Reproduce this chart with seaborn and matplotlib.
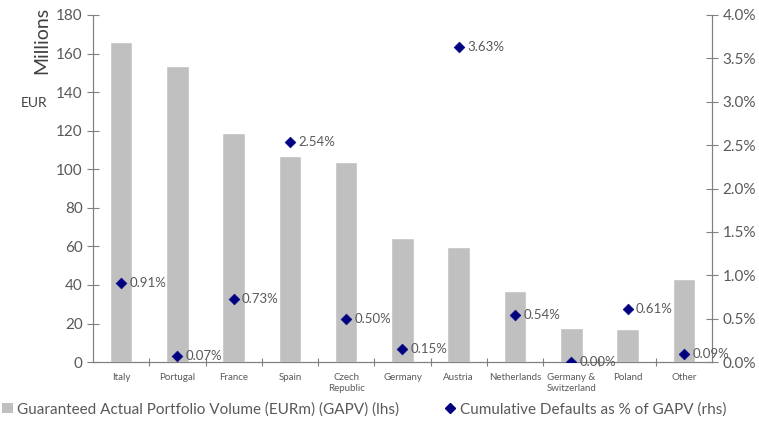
import matplotlib
matplotlib.use("Agg")
import matplotlib.pyplot as plt
import seaborn as sns
import numpy as np
import pandas as pd
from matplotlib.ticker import FuncFormatter, FixedLocator
from matplotlib.lines import Line2D
from matplotlib.patches import Patch

countries = ["Italy", "Portugal", "France", "Spain", "Czech\nRepublic", "Germany",
             "Austria", "Netherlands", "Germany &\nSwitzerland", "Poland", "Other"]
gapv = [166, 153.5, 119, 107, 104, 64.5, 59.5, 37, 17.5, 17, 43]
defaults_pct = [0.91, 0.07, 0.73, 2.54, 0.50, 0.15, 3.63, 0.54, 0.00, 0.61, 0.09]

GREY = "#c0c0c0"
NAVY = "#000080"
TXT = "#595959"

sns.set_style("white")
plt.rcParams["font.family"] = ["Lato", "DejaVu Sans"]

df = pd.DataFrame({"country": countries, "gapv": gapv, "pct": defaults_pct})
df["pos"] = np.arange(len(df))

fig = plt.figure(figsize=(7.59, 4.28), dpi=100)
ax = fig.add_axes([0.1225, 0.154, 0.8155, 0.811])

sns.barplot(data=df, x="country", y="gapv", color=GREY, width=0.4, ax=ax,
            saturation=1)
ax.set_xlim(-0.5, len(df) - 0.5)
ax.set_ylim(0, 180)
ax.set_yticks(range(0, 181, 20))
ax.set_xlabel("")
ax.set_ylabel("")

ax2 = ax.twinx()
sns.scatterplot(data=df, x="pos", y="pct", marker="D", color=NAVY, s=30,
                edgecolor=NAVY, ax=ax2, zorder=5, legend=False)
ax2.set_ylim(0, 4.0)
ax2.set_yticks(np.arange(0, 4.01, 0.5))
ax2.yaxis.set_major_formatter(FuncFormatter(lambda v, p: f"{v:.1f}%"))
ax2.set_ylabel("")
ax2.set_xlim(-0.5, len(df) - 0.5)
for x, v in zip(df["pos"], df["pct"]):
    ax2.annotate(f"{v:.2f}%", (x, v), xytext=(6, 0), textcoords="offset points",
                 va="center", ha="left", fontsize=9.5, color=TXT)

for a in (ax, ax2):
    a.spines["top"].set_visible(False)
    for s in ("left", "right", "bottom"):
        a.spines[s].set_color("#808080")
        a.spines[s].set_linewidth(0.8)

ax.tick_params(axis="y", direction="inout", length=8, width=0.8, color="#808080",
               labelsize=11, labelcolor=TXT, left=True)
ax2.tick_params(axis="y", direction="inout", length=8, width=0.8, color="#808080",
                labelsize=11, labelcolor=TXT, right=True)
ax.tick_params(axis="x", which="major", length=0, labelsize=7, labelcolor=TXT, pad=8)
ax.xaxis.set_minor_locator(FixedLocator(np.arange(0.5, len(df) - 1, 1.0)))
ax.tick_params(axis="x", which="minor", direction="inout", length=6, width=0.8,
               color="#808080", bottom=True)

fig.text(0.055, 0.905, "Millions", rotation=90, ha="center", va="center",
         fontsize=14, color="#404040")
fig.text(0.045, 0.76, "EUR", ha="center", va="center", fontsize=10, color="#404040")

handles = [Patch(facecolor=GREY, edgecolor="none"),
           Line2D([], [], marker="D", color=NAVY, linestyle="none", markersize=5)]
labels = ["Guaranteed Actual Portfolio Volume (EURm) (GAPV) (lhs)",
          "Cumulative Defaults as % of GAPV (rhs)"]
fig.legend(handles, labels, loc="lower center", bbox_to_anchor=(0.48, -0.005), ncol=2,
           frameon=False, fontsize=11, labelcolor=TXT, handlelength=0.7,
           handletextpad=0.3, columnspacing=3)

fig.savefig("out.png", dpi=100)
plt.close(fig)
